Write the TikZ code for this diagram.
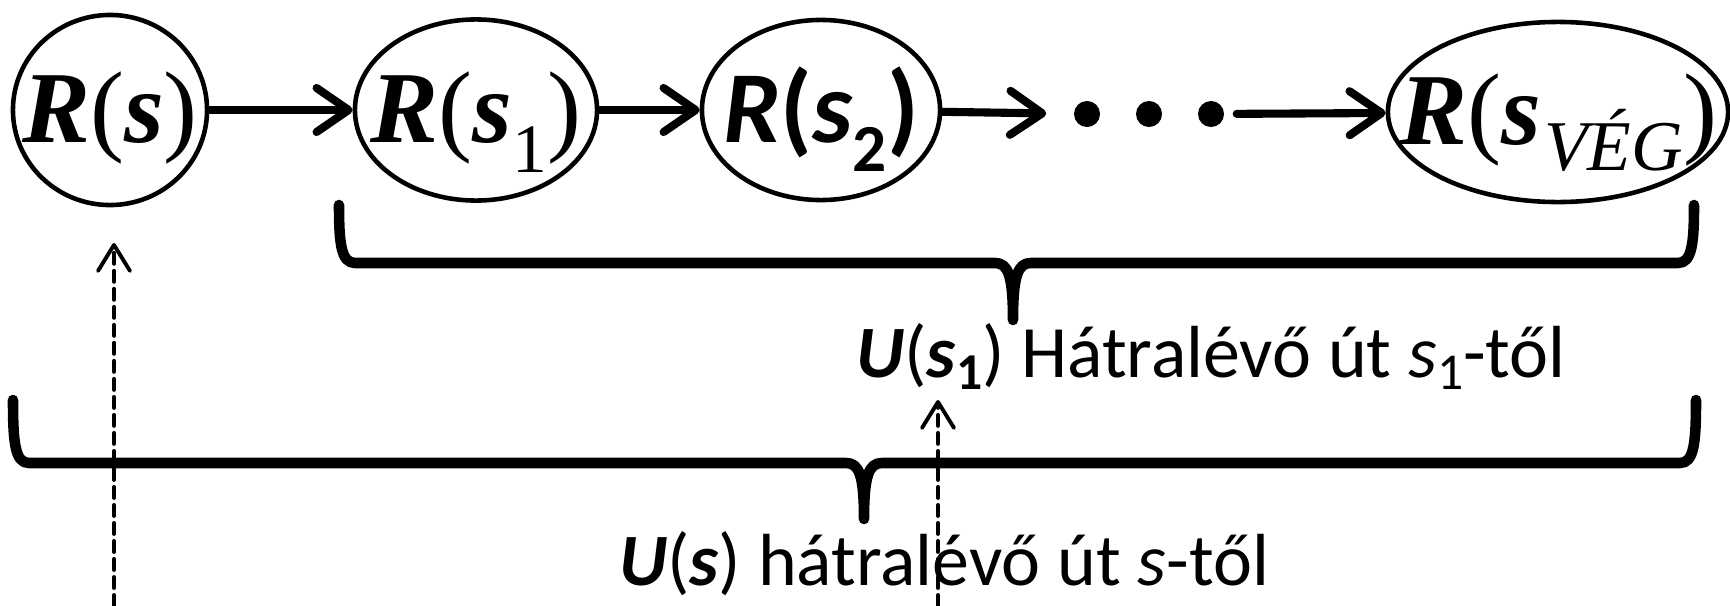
\documentclass[tikz,border=0pt]{standalone}
\usepackage{fontspec}
\setmainfont{Carlito}
\newfontfamily\tms{Liberation Serif}
\newfontface\tmsbi{Liberation Serif Bold Italic}
\newfontface\tmsit{Liberation Serif Italic}
\usetikzlibrary{arrows.meta,shapes.geometric}

\newcommand{\lowsub}[3]{\raisebox{-#2em}{\scalebox{#1}{#3}}}

\tikzset{
  rnode/.style={draw, ellipse, line width=1.3pt, inner sep=0pt,
    text height=19.6pt, text depth=1pt},
  flow/.style={line width=2.3pt, -{Straight Barb[length=3.2mm, width=4.4mm, round]}},
  backarrow/.style={line width=1.1pt, dash pattern=on 1.1mm off 0.7mm,
    -{Straight Barb[length=2.6mm, width=3.2mm, round]}},
  bracket/.style={line width=3pt, line cap=round, line join=round},
  bigdot/.style={circle, fill, inner sep=0pt, minimum size=2.6mm},
  lbl/.style={anchor=base, font=\fontsize{21}{24}\selectfont}
}

\begin{document}
\begin{tikzpicture}[x=0.01cm, y=-0.01cm, line cap=round]
  \useasboundingbox (0,0) rectangle (1730,606);

  \newcommand{\curlybrace}[6]{% #1=left x, #2=right x, #3=end top y, #4=line y, #5=tip x, #6=tip y
    \draw[bracket] (#1,#3) .. controls (#1,#4-20) and (#1+2,#4) .. (#1+16,#4)
      -- (#5-18,#4) .. controls (#5-5,#4) and (#5,#4+12) .. (#5,#6)
      .. controls (#5,#4+12) and (#5+5,#4) .. (#5+18,#4)
      -- (#2-16,#4) .. controls (#2-2,#4) and (#2,#4-20) .. (#2,#3);
  }

  % states
  \node[rnode, minimum width=1.94cm, minimum height=1.90cm,
        font=\tms\fontsize{29}{31}\selectfont] (rs) at (110,110)
    {\makebox[0pt]{{\tmsbi R}({\tmsbi s})}};
  \node[rnode, minimum width=2.42cm, minimum height=1.81cm,
        font=\tms\fontsize{29}{31}\selectfont] (rs1) at (476,110)
    {\makebox[0pt]{{\tmsbi R}({\tmsbi s}\lowsub{0.68}{0.29}{1})}};
  \node[rnode, minimum width=2.38cm, minimum height=1.80cm,
        font=\fontsize{29}{31}\selectfont] (rs2) at (821,110)
    {\makebox[0pt]{\textbf{\textit{R}(\textit{s}\lowsub{0.66}{0.28}{2})}}};
  \node[rnode, minimum width=3.40cm, minimum height=1.80cm,
        font=\tms\fontsize{29}{31}\selectfont] (rsveg) at (1558,112)
    {\makebox[0pt]{{\tmsbi R}({\tmsbi s}\kern1pt\lowsub{0.7}{0.25}{\tmsit VÉG})}};

  \node[bigdot] (d1) at (1087,114) {};
  \node[bigdot] (d2) at (1149,114) {};
  \node[bigdot] (d3) at (1211,114) {};

  \draw[flow] (rs) -- (rs1);
  \draw[flow] (rs1) -- (rs2);
  \draw[flow, shorten >=0.27cm] (rs2) -- (d1);
  \draw[flow, shorten <=0.12cm] (d3) -- (rsveg);

  % remaining paths
  \curlybrace{339}{1694}{205}{263}{1013}{320}
  \curlybrace{13}{1696}{400}{463}{864}{519}

  \node[lbl] (us1) at (1211,377)
    {\textbf{\textit{U}}(\textbf{\textit{s}}\lowsub{0.7}{0.17}{\textbf{1}}) Hátralévő út \textit{s}\lowsub{0.7}{0.17}{1}-től};
  \node[lbl] (us) at (944,585)
    {\textbf{\textit{U}}(\textbf{\textit{s}}) hátralévő út \textit{s}-től};

  \coordinate (b1) at (114,606);
  \coordinate (t1) at (114,243);
  \coordinate (b2) at (938,606);
  \coordinate (t2) at (938,400);
  \draw[backarrow] (b1) -- (t1);
  \draw[backarrow] (b2) -- (t2);
\end{tikzpicture}
\end{document}
